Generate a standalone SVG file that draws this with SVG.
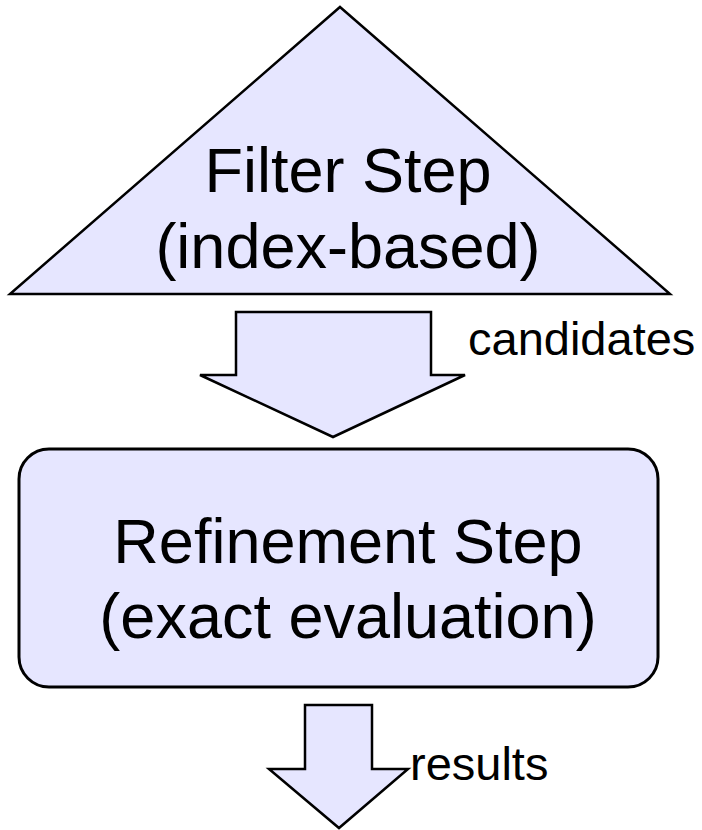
<svg xmlns="http://www.w3.org/2000/svg" width="702" height="830" viewBox="0 0 702 830">
  <style>
    .shape { fill: #e6e6ff; stroke: #000; stroke-width: 2.5; stroke-linejoin: miter; }
    .box { stroke-width: 3; }
    .big { font-family: "Liberation Sans", Arial, sans-serif; font-size: 63px; fill: #000; text-anchor: middle; }
    .label { font-family: "Liberation Sans", Arial, sans-serif; font-size: 47px; fill: #000; }
  </style>
  <rect width="702" height="830" fill="#fff"/>

  <!-- Filter step (triangle) -->
  <g id="filter-step">
    <polygon class="shape" points="340,7 670,294 10,294"/>
    <text class="big" x="348" y="192">Filter Step</text>
    <text class="big" x="348" y="268">(index-based)</text>
  </g>

  <!-- Refinement step (rounded box) -->
  <g id="refinement-step">
    <rect class="shape box" x="19" y="449" width="639" height="238" rx="30" ry="30"/>
    <text class="big" x="348" y="563">Refinement Step</text>
    <text class="big" x="348" y="638">(exact evaluation)</text>
  </g>

  <!-- Block arrows between the steps -->
  <g id="connectors">
    <g id="candidates-arrow">
      <polygon class="shape" points="236,312 431,312 431,375 465,375 333,437 200,375 236,375"/>
      <text class="label" x="468" y="355">candidates</text>
    </g>
    <g id="results-arrow">
      <polygon class="shape" points="305,705 372,705 372,769 408,769 339,828 269,769 305,769"/>
      <text class="label" x="410" y="780">results</text>
    </g>
  </g>
</svg>
